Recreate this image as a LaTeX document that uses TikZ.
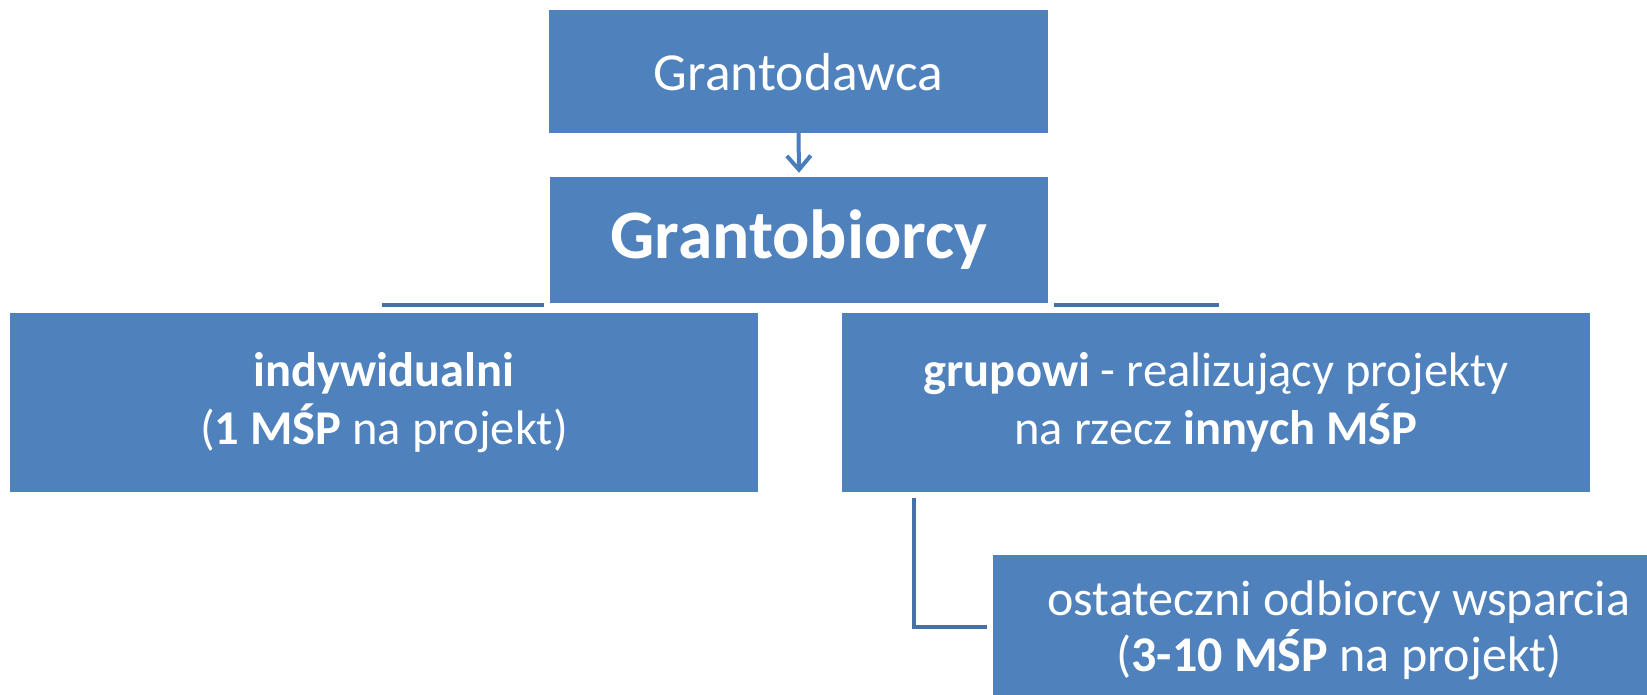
\documentclass[tikz,border=0pt]{standalone}
\usepackage{fontspec}
\setmainfont{Carlito}
\usetikzlibrary{arrows.meta,calc}
\definecolor{boxblue}{HTML}{4F81BD}
\definecolor{lineblue}{HTML}{4570AC}
\definecolor{arrowblue}{HTML}{4A7EBB}
\tikzset{
  box/.style={rectangle, fill=boxblue, inner sep=0pt, align=center, text=white,
    font=\fontsize{48.5}{58}\selectfont},
  conn/.style={draw=lineblue, line width=4pt},
}
\begin{document}
\begin{tikzpicture}[x=1pt,y=-1pt]
\useasboundingbox (0,0) rectangle (1647,695);
\fill[white] (0,0) rectangle (1647,695);
\node[box, minimum width=499pt, minimum height=122.5pt,
  font=\fontsize{53.5}{62}\selectfont] (dawca) at (798.5,71.75) {Grantodawca};
\node[box, minimum width=498pt, minimum height=126pt,
  font=\fontsize{69.5}{80}\selectfont\bfseries] (biorcy) at (799,240) {Grantobiorcy};
\node[box, minimum width=748pt, minimum height=179pt] (indyw) at (384,402.5)
  {\textbf{indywidualni}\\(\textbf{1 MŚP} na projekt)};
\node[box, minimum width=748pt, minimum height=179pt] (grup) at (1216,402.5)
  {\textbf{grupowi} - realizujący projekty\\na rzecz \textbf{innych MŚP}};
\node[box, minimum width=692pt, minimum height=150pt,
  font=\fontsize{50}{56}\selectfont] (ost) at (1339,630)
  {ostateczni odbiorcy wsparcia\\(\textbf{3-10 MŚP} na projekt)};
% arrow
\draw[draw=arrowblue, line width=4pt, -{Straight Barb[length=14pt,width=24pt]}]
  (dawca.south) -- ($(biorcy.north)+(0,-4)$);
% partial hierarchy lines
\coordinate (la) at (382,305);
\coordinate (lb) at (544,305);
\coordinate (ra) at (1054,305);
\coordinate (rb) at (1219,305);
\draw[conn] (la) -- (lb);
\draw[conn] (ra) -- (rb);
\coordinate (va) at (914,498);
\coordinate (vb) at (914,627);
\coordinate (vc) at (987,627);
\draw[conn] (va) -- (vb) -- (vc);
\end{tikzpicture}
\end{document}
